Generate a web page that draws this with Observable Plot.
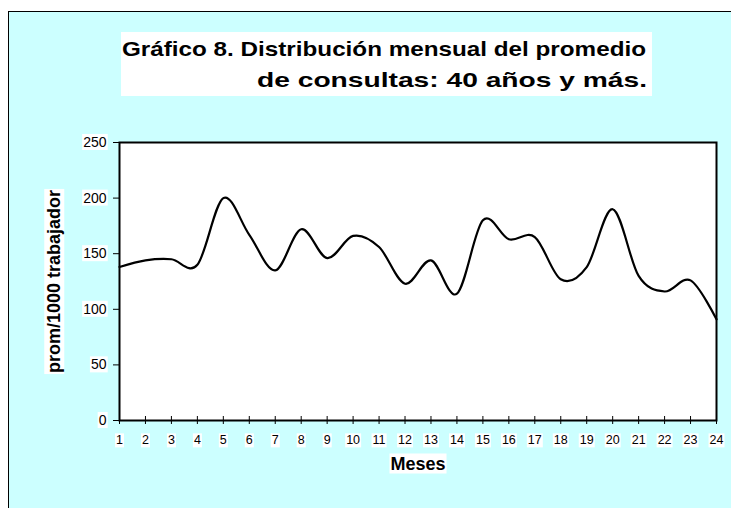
<!DOCTYPE html>
<html><head><meta charset="utf-8">
<script src="https://cdn.jsdelivr.net/npm/d3@7"></script>
<script src="https://cdn.jsdelivr.net/npm/@observablehq/plot@0.6"></script>
<style>
html,body{margin:0;padding:0;background:#fff;}
#wrap{position:relative;width:731px;height:508px;overflow:hidden;font-family:Arial,"Liberation Sans",sans-serif;}
#bg{position:absolute;left:8px;top:11px;width:760px;height:540px;background:#ccffff;border-left:1px solid #000;border-top:1px solid #000;}
#title{position:absolute;left:0;top:0;}
#chart{position:absolute;left:0;top:0;}
</style></head><body>
<div id="wrap"><div id="bg"></div><svg id="title" width="731" height="110"></svg><div id="chart"></div></div>
<script>
const titleLines = ["Gráfico 8. Distribución mensual del promedio", "de consultas: 40 años y más."];
const months = [1,2,3,4,5,6,7,8,9,10,11,12,13,14,15,16,17,18,19,20,21,22,23,24];
const values = [138,144,145,140,200,167,135,172,146,166,156,123,144,114,180,163,165,127,138,190,130,116,126,91];
const yTicks = [0,50,100,150,200,250];
const yLabel = "prom/1000 trabajador";
const xLabel = "Meses";

const data = months.map((m, i) => ({mes: m, prom: values[i]}));

// Title
const tsvg = d3.select("#title");
tsvg.append("rect").attr("x",121).attr("y",32).attr("width",531).attr("height",64).attr("fill","white");
const tl = [{x:122, y:55.5, len:524}, {x:257, y:87, len:390}];
titleLines.forEach((t, i) => {
  tsvg.append("text").attr("x", tl[i].x).attr("y", tl[i].y)
    .attr("textLength", tl[i].len).attr("lengthAdjust", "spacingAndGlyphs")
    .attr("font-family", "Arial, 'Liberation Sans', sans-serif")
    .attr("font-size", 20.5).attr("font-weight", "bold").attr("fill", "black").text(t);
});

const plot = Plot.plot({
  width: 731, height: 508,
  marginLeft: 119, marginRight: 15, marginTop: 142, marginBottom: 88,
  style: {background: "transparent", fontFamily: "Arial, 'Liberation Sans', sans-serif", overflow: "visible", color: "black"},
  x: {domain: [1, 24]},
  y: {domain: [0, 250]},
  marks: [
    Plot.frame({fill: "white", stroke: null}),
    Plot.axisY({ticks: yTicks, tickSize: 6, tickPadding: 7, fontSize: 14, label: null}),
    Plot.axisX({ticks: months, tickSize: 8, dy: -4, tickFormat: () => "", label: null}),
    Plot.axisX({ticks: months, tickSize: 0, tickPadding: 15, fontSize: 12.5, label: null}),
    Plot.line(data, {x: "mes", y: "prom", stroke: "black", strokeWidth: 2.2, curve: d3.curveCardinal.tension(0)}),
    Plot.frame({stroke: "black", strokeWidth: 2}),
    Plot.text([yLabel], {text: d => d, frameAnchor: "left", textAnchor: "middle", rotate: -90, dx: -65, fontSize: 18, fontWeight: "bold"}),
    Plot.text([xLabel], {text: d => d, frameAnchor: "bottom", dy: 49, fontSize: 18, fontWeight: "bold"})
  ]
});
document.getElementById("chart").appendChild(plot);

// white boxes behind texts
plot.querySelectorAll("text").forEach(t => {
  if (!t.textContent) return;
  const b = t.getBBox();
  const r = document.createElementNS("http://www.w3.org/2000/svg", "rect");
  r.setAttribute("x", b.x - 1); r.setAttribute("y", b.y);
  r.setAttribute("width", b.width + 2); r.setAttribute("height", b.height);
  r.setAttribute("fill", "white"); r.setAttribute("stroke", "none");
  const tr = t.getAttribute("transform");
  if (tr) r.setAttribute("transform", tr);
  t.parentNode.insertBefore(r, t);
});
</script>
</body></html>
